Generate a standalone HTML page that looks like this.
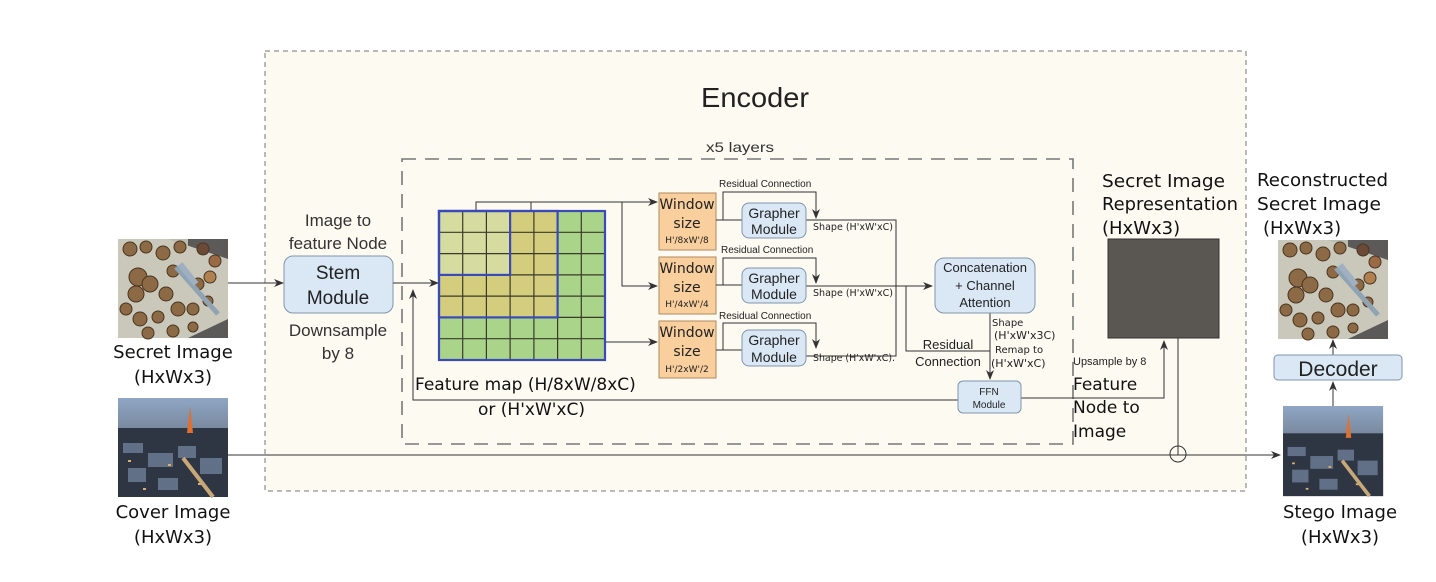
<!DOCTYPE html>
<html><head><meta charset="utf-8"><style>
html,body{margin:0;padding:0;background:#fff;}
svg{display:block;}
.c{font-family:"Comic Sans MS","DejaVu Sans","Liberation Sans",sans-serif;}
.s{font-family:"Liberation Sans",sans-serif;}
</style></head><body>
<svg width="1436" height="582" viewBox="0 0 1436 582" xmlns="http://www.w3.org/2000/svg">
<defs>
<marker id="a" markerWidth="10" markerHeight="10" refX="9" refY="5" orient="auto" markerUnits="userSpaceOnUse"><path d="M0,1 L10,5 L0,9 L3,5 Z" fill="#333"/></marker>
<linearGradient id="sky" x1="0" y1="0" x2="0" y2="1"><stop offset="0" stop-color="#8fa6c4"/><stop offset="0.3" stop-color="#7a8aa0"/><stop offset="0.55" stop-color="#3d4a5e"/><stop offset="1" stop-color="#4a5060"/></linearGradient>
<g id="nuts">
<rect x="0" y="0" width="110" height="99" fill="#b9bdb0"/>
<rect x="70" y="0" width="40" height="99" fill="#5b5a58"/>
<path d="M50,0 L110,20 L110,80 L70,99 L0,99 L0,0Z" fill="#c9c8ba"/>
<g fill="#8b6a45" stroke="#4a3520" stroke-width="1">
<circle cx="12" cy="10" r="7"/><circle cx="28" cy="8" r="6"/><circle cx="45" cy="14" r="7"/><circle cx="62" cy="8" r="6"/><circle cx="85" cy="10" r="6" fill="#6b4a3a"/><circle cx="97" cy="22" r="6" fill="#9a6a45"/>
<circle cx="20" cy="38" r="9"/><circle cx="32" cy="45" r="8"/><circle cx="18" cy="55" r="8"/><circle cx="55" cy="32" r="6"/><circle cx="48" cy="55" r="7"/><circle cx="60" cy="70" r="7"/><circle cx="40" cy="78" r="6"/><circle cx="22" cy="80" r="7"/><circle cx="8" cy="70" r="6"/><circle cx="80" cy="45" r="6"/><circle cx="92" cy="38" r="6" fill="#b08050"/><circle cx="75" cy="70" r="6"/><circle cx="90" cy="62" r="5"/><circle cx="30" cy="94" r="6"/><circle cx="55" cy="92" r="6"/><circle cx="75" cy="88" r="5"/>
</g>
<path d="M58,28 L100,75" stroke="#8fa3b5" stroke-width="5"/><path d="M62,25 L78,45" stroke="#a0b0c0" stroke-width="6"/>
</g>
<g id="city">
<rect x="0" y="0" width="110" height="99" fill="url(#sky)"/>
<g fill="#2e3644"><rect x="0" y="30" width="110" height="69"/></g>
<g fill="#6f7f98" opacity="0.8"><rect x="5" y="45" width="20" height="10"/><rect x="30" y="55" width="25" height="14"/><rect x="60" y="48" width="18" height="12"/><rect x="82" y="60" width="22" height="16"/><rect x="10" y="70" width="18" height="14"/><rect x="40" y="80" width="20" height="12"/></g>
<g fill="#d8b070"><rect x="10" y="62" width="3" height="2"/><rect x="50" y="66" width="3" height="2"/><rect x="80" y="85" width="4" height="2"/><rect x="25" y="90" width="3" height="2"/></g>
<path d="M65,60 L95,99" stroke="#c9a878" stroke-width="4"/>
<path d="M72,8 L69,35 L75,35Z" fill="#e07030"/>
</g>
</defs>

<rect x="265" y="51" width="981" height="440" fill="#fdfaf2" stroke="#777" stroke-width="1" stroke-dasharray="5,4"/>
<text x="755" y="107" font-size="28" text-anchor="middle" class="s" fill="#222" textLength="108" lengthAdjust="spacingAndGlyphs">Encoder</text>
<text x="740" y="152" font-size="14" text-anchor="middle" class="s" fill="#333" textLength="68" lengthAdjust="spacingAndGlyphs">x5 layers</text>
<rect x="402" y="159" width="671" height="285" fill="none" stroke="#777" stroke-width="1.6" stroke-dasharray="14,9"/>

<use href="#nuts" x="118" y="239"/>
<use href="#city" x="118" y="398"/>
<use href="#nuts" x="1278" y="240"/>
<g transform="translate(1283,406) scale(0.91,0.91)"><use href="#city"/></g>

<g class="c" font-size="18" fill="#111" text-anchor="middle">
<text x="173" y="358">Secret Image</text><text x="173" y="383">(HxWx3)</text>
<text x="173" y="518">Cover Image</text><text x="173" y="543">(HxWx3)</text>
<text x="1340" y="518">Stego Image</text><text x="1340" y="543">(HxWx3)</text>
</g>
<g class="c" font-size="18" fill="#111">
<text x="1257" y="186" textLength="131" lengthAdjust="spacingAndGlyphs">Reconstructed</text><text x="1257" y="210" textLength="124" lengthAdjust="spacingAndGlyphs">Secret Image</text><text x="1263" y="234">(HxWx3)</text>
<text x="1102" y="187" textLength="123" lengthAdjust="spacingAndGlyphs">Secret Image</text><text x="1102" y="210" textLength="136" lengthAdjust="spacingAndGlyphs">Representation</text><text x="1102" y="234">(HxWx3)</text>
</g>
<g class="c" font-size="17" fill="#111">
<text x="415" y="390">Feature map (H/8xW/8xC)</text>
<text x="478" y="415">or (H'xW'xC)</text>
<text x="1073" y="390">Feature</text><text x="1073" y="413">Node to</text><text x="1073" y="437">Image</text>
</g>

<g class="s" font-size="17" fill="#333" text-anchor="middle">
<text x="338" y="226">Image to</text><text x="338" y="249">feature Node</text>
<text x="338" y="336">Downsample</text><text x="338" y="359">by 8</text>
</g>
<rect x="284" y="256" width="109" height="57" rx="9" fill="#dae8f6" stroke="#7f95ab"/>
<text x="338" y="279" font-size="19" text-anchor="middle" class="s" fill="#222">Stem</text>
<text x="338" y="304" font-size="19" text-anchor="middle" class="s" fill="#222">Module</text>

<g stroke="#333" stroke-width="1" fill="none">
<line x1="228" y1="283" x2="283" y2="283" marker-end="url(#a)"/>
<line x1="393" y1="283" x2="438" y2="283" marker-end="url(#a)"/>
<polyline points="958,400 413,400 413,290" marker-end="url(#a)"/>
<line x1="228" y1="455" x2="1280" y2="455" marker-end="url(#a)"/>
<polyline points="476,211 476,202 531,202 531,211"/>
<line x1="531" y1="202" x2="657" y2="202" marker-end="url(#a)"/>
<polyline points="622,202 622,286 657,286" marker-end="url(#a)"/>
<line x1="605" y1="342" x2="657" y2="342" marker-end="url(#a)"/>
</g>

<g>
<rect x="439" y="211" width="166" height="149" fill="#a9d48a"/>
<rect x="439" y="211" width="118" height="107" fill="#d4cd7e"/>
<rect x="439" y="211" width="71" height="64" fill="#d6dba0"/>
<g stroke="#3a3a2a" stroke-width="1.2">
<line x1="462.7" y1="211" x2="462.7" y2="360"/><line x1="486.4" y1="211" x2="486.4" y2="360"/><line x1="510.1" y1="211" x2="510.1" y2="360"/><line x1="533.9" y1="211" x2="533.9" y2="360"/><line x1="557.6" y1="211" x2="557.6" y2="360"/><line x1="581.3" y1="211" x2="581.3" y2="360"/>
<line x1="439" y1="232.3" x2="605" y2="232.3"/><line x1="439" y1="253.6" x2="605" y2="253.6"/><line x1="439" y1="274.9" x2="605" y2="274.9"/><line x1="439" y1="296.1" x2="605" y2="296.1"/><line x1="439" y1="317.4" x2="605" y2="317.4"/><line x1="439" y1="338.7" x2="605" y2="338.7"/>
</g>
<g fill="none" stroke="#3a4ab8" stroke-width="2.2">
<rect x="439" y="211" width="166" height="149"/>
<rect x="439" y="211" width="118.6" height="106.4"/>
<rect x="439" y="211" width="71.1" height="63.9"/>
</g>
</g>

<g stroke="#b08a60" fill="#f8cf9d">
<rect x="659" y="193" width="57" height="57"/><rect x="659" y="257" width="57" height="57"/><rect x="659" y="321" width="57" height="57"/>
</g>
<g class="c" fill="#222" text-anchor="middle">
<text x="687" y="209" font-size="14">Window</text><text x="687" y="228" font-size="14">size</text><text x="687" y="243" font-size="9">H'/8xW'/8</text>
<text x="687" y="273" font-size="14">Window</text><text x="687" y="292" font-size="14">size</text><text x="687" y="307" font-size="9">H'/4xW'/4</text>
<text x="687" y="337" font-size="14">Window</text><text x="687" y="356" font-size="14">size</text><text x="687" y="372" font-size="9">H'/2xW'/2</text>
</g>

<g stroke="#333" stroke-width="1" fill="none">
<line x1="716" y1="220" x2="742" y2="220"/><polyline points="723,220 723,192 816,192 816,218" marker-end="url(#a)"/>
<line x1="716" y1="285" x2="742" y2="285"/><polyline points="723,285 723,258 816,258 816,283" marker-end="url(#a)"/>
<line x1="716" y1="350" x2="742" y2="350"/><polyline points="723,350 723,323 816,323 816,348" marker-end="url(#a)"/>
<polyline points="806,220 896,220 896,356 806,356"/>
<line x1="806" y1="286" x2="932" y2="286" marker-end="url(#a)"/>
<polyline points="906,286 906,351 990,351"/>
<line x1="990" y1="313" x2="990" y2="379" marker-end="url(#a)"/>
<polyline points="1021,398 1164,398 1164,341" marker-end="url(#a)"/>
<line x1="1178" y1="338" x2="1178" y2="455"/>
<circle cx="1178" cy="454" r="8"/>
<line x1="1333" y1="406" x2="1333" y2="382" marker-end="url(#a)"/>
<line x1="1333" y1="355" x2="1333" y2="340" marker-end="url(#a)"/>
</g>
<g fill="#dae8f6" stroke="#7f95ab">
<rect x="742" y="203" width="64" height="35" rx="7"/><rect x="742" y="268" width="64" height="35" rx="7"/><rect x="742" y="330" width="64" height="36" rx="7"/>
<rect x="935" y="258" width="100" height="55" rx="9"/>
<rect x="958" y="381" width="63" height="32" rx="5"/>
<rect x="1274" y="355" width="128" height="25" rx="4"/>
</g>
<g class="s" fill="#222" text-anchor="middle" font-size="14">
<text x="774" y="218">Grapher</text><text x="774" y="234">Module</text>
<text x="774" y="283">Grapher</text><text x="774" y="299">Module</text>
<text x="774" y="345">Grapher</text><text x="774" y="362">Module</text>
<text x="985" y="272" font-size="13">Concatenation</text><text x="985" y="290" font-size="13">+ Channel</text><text x="985" y="307" font-size="13">Attention</text>
<text x="989" y="395" font-size="10">FFN</text><text x="989" y="408" font-size="10">Module</text>
<text x="1338" y="376" font-size="21">Decoder</text>
<text x="948" y="349" font-size="13">Residual</text><text x="948" y="366" font-size="13">Connection</text>
</g>
<g class="s" fill="#222" font-size="10">
<text x="719" y="187">Residual Connection</text>
<text x="721" y="253">Residual Connection</text>
<text x="719" y="319">Residual Connection</text>
<text x="1073" y="365" font-size="11">Upsample by 8</text>
</g>
<g class="c" fill="#222" font-size="10">
<text x="813" y="230" textLength="80" lengthAdjust="spacingAndGlyphs">Shape (H'xW'xC)</text>
<text x="813" y="296" textLength="80" lengthAdjust="spacingAndGlyphs">Shape (H'xW'xC)</text>
<text x="813" y="361" textLength="82" lengthAdjust="spacingAndGlyphs">Shape (H'xW'xC).</text>
<text x="992" y="326">Shape</text><text x="994" y="339" font-size="11">(H'xW'x3C)</text><text x="995" y="353">Remap to</text><text x="991" y="367" font-size="11">(H'xW'xC)</text>
</g>

<rect x="1108" y="239" width="111" height="99" fill="#5a5753" stroke="#333"/>
</svg>
</body></html>
